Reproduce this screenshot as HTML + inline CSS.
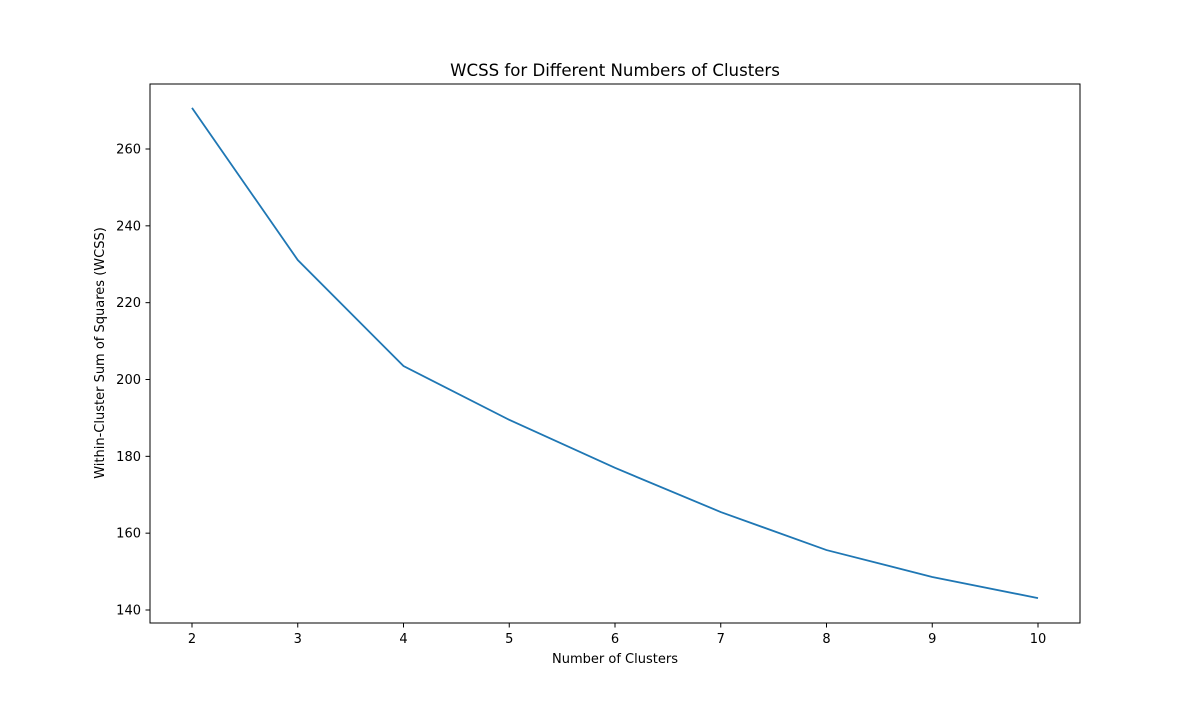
<!DOCTYPE html>
<html><head><meta charset="utf-8"><style>
body{margin:0;background:#fff;}
svg text{font-family:"DejaVu Sans","Liberation Sans",sans-serif;fill:#000;}
</style></head><body>
<svg id="chart" width="1200" height="700" xmlns="http://www.w3.org/2000/svg">
<text x="615" y="76" font-size="16.6" text-anchor="middle">WCSS for Different Numbers of Clusters</text>
<text x="615" y="663" font-size="13" text-anchor="middle">Number of Clusters</text>
<text x="0" y="0" font-size="13" text-anchor="middle" transform="translate(104,353) rotate(-90)">Within-Cluster Sum of Squares (WCSS)</text>
<g id="ticks"></g>
<polyline id="line" fill="none" stroke="#1f77b4" stroke-width="1.8"/>
<rect x="150" y="84" width="930" height="539" fill="none" stroke="#000" stroke-width="1"/>
</svg>
<script>
const categories=[2,3,4,5,6,7,8,9,10];
const wcss=[270.7,231.1,203.5,189.5,177.0,165.5,155.6,148.6,143.1];
const xTicks=[2,3,4,5,6,7,8,9,10];
const yTicks=[140,160,180,200,220,240,260];
function xs(v){return 192+(v-2)*(1038-192)/8;}
function ys(v){return 610-(v-140)*(610-149)/120;}
const ns="http://www.w3.org/2000/svg";
const g=document.getElementById('ticks');
xTicks.forEach(t=>{
  const l=document.createElementNS(ns,'line');
  
  
  l.setAttribute('x1',xs(t));l.setAttribute('x2',xs(t));l.setAttribute('y1',623);l.setAttribute('y2',627.5);l.setAttribute('stroke','#000');
  g.appendChild(l);
  const tx=document.createElementNS(ns,'text');
  
  
  tx.setAttribute('x',xs(t));tx.setAttribute('y',643);tx.setAttribute('font-size','13');tx.setAttribute('text-anchor','middle');
  tx.textContent=t;g.appendChild(tx);
});
yTicks.forEach(t=>{
  const l=document.createElementNS(ns,'line');
  
  
  l.setAttribute('x1',145.5);l.setAttribute('x2',150);l.setAttribute('y1',ys(t));l.setAttribute('y2',ys(t));l.setAttribute('stroke','#000');
  g.appendChild(l);
  const tx=document.createElementNS(ns,'text');
  
  
  tx.setAttribute('x',141);tx.setAttribute('y',ys(t)+4.5);tx.setAttribute('font-size','13');tx.setAttribute('text-anchor','end');
  tx.textContent=t;g.appendChild(tx);
});
document.getElementById('line').setAttribute('points',categories.map((c,i)=>xs(c)+','+ys(wcss[i])).join(' '));
</script>
</body></html>
